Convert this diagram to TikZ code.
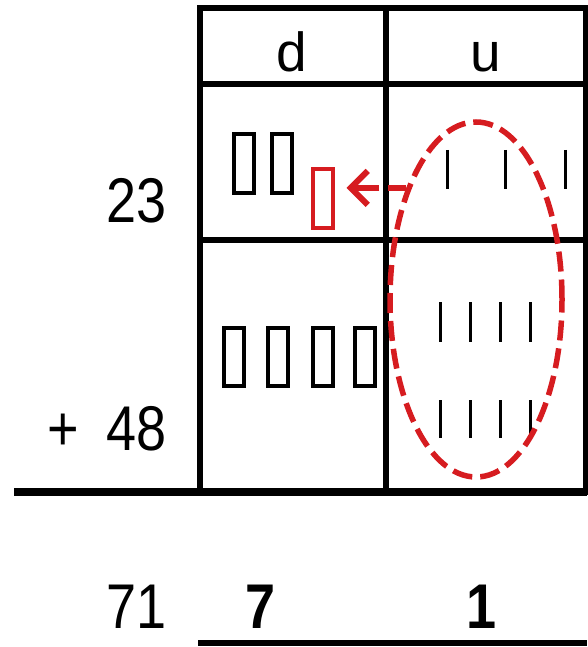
\documentclass[tikz,border=0pt]{standalone}
\usepackage{fontspec}
\setmainfont{Liberation Sans}
\usetikzlibrary{shapes.geometric,arrows.meta}
\definecolor{myred}{RGB}{214,28,32}
\tikzset{
  grid/.style={line width=6pt},
  tenblock/.style={draw, line width=4pt, rectangle, inner sep=0pt, minimum width=20pt, minimum height=58pt},
  unitstick/.style={line width=3pt},
  numlabel/.style={inner sep=0pt, font=\fontsize{54}{54}\selectfont},
  headlabel/.style={inner sep=0pt, font=\fontsize{55}{55}\selectfont},
  groupring/.style={draw=myred, ellipse, line width=5.5pt, dash pattern=on 20pt off 8pt, minimum width=172pt, minimum height=355pt, inner sep=0pt},
  carryarrow/.style={draw=myred, line width=6pt, dash pattern=on 18pt off 9pt on 60pt off 8pt, -{Straight Barb[length=17pt,width=34pt,line width=6pt]}}
}
\newcommand{\tall}[1]{\scalebox{1}[1.17]{#1}}
\begin{document}
\begin{tikzpicture}[x=1pt,y=-1pt]
\useasboundingbox (0,0) rectangle (587,647);
% table
\draw[grid] (200,8) rectangle (586,492);
\draw[grid] (200,84) -- (586,84);
\draw[grid] (200,240) -- (586,240);
\draw[grid] (386,8) -- (386,492);
\draw[line width=8pt] (14,492) -- (587,492);
\draw[line width=6pt] (198,643) -- (587,643);
% headers
\node[headlabel, anchor=base] (hd) at (292,72) {d};
\node[headlabel, anchor=base] (hu) at (486,72) {u};
% numbers
\node[numlabel, anchor=base east] (n23) at (167,222) {\tall{23}};
\node[numlabel, anchor=base east] (n48) at (167,450) {\tall{+\hspace{28pt}48}};
\node[numlabel, anchor=base east] (n71) at (167,628) {\tall{71}};
\node[numlabel, anchor=base, font=\fontsize{54}{54}\selectfont\bfseries] (r7) at (261,628) {\tall{7}};
\node[numlabel, anchor=base, font=\fontsize{54}{54}\selectfont\bfseries] (r1) at (482,628) {\tall{1}};
% tens blocks
\node[tenblock] (t1) at (243.5,163.5) {};
\node[tenblock] (t2) at (281.5,163.5) {};
\node[tenblock, draw=myred] (tenred) at (322.5,198.5) {};
\node[tenblock] (t3) at (233.5,356.5) {};
\node[tenblock] (t4) at (277.5,356.5) {};
\node[tenblock] (t5) at (322.5,356.5) {};
\node[tenblock] (t6) at (365,356.5) {};
% unit sticks
\foreach \x in {447,505,565} \draw[unitstick] (\x,150) -- (\x,189);
\foreach \x in {440,470,500,530} {
  \draw[unitstick] (\x,302) -- (\x,342);
  \draw[unitstick] (\x,400) -- (\x,438);
}
% grouping ring and carry arrow
\node[groupring] (ring) at (476,299.5) {};
\draw[carryarrow, shorten >=12pt] (ring.122) -- (tenred.east |- ring.122);
\end{tikzpicture}
\end{document}
